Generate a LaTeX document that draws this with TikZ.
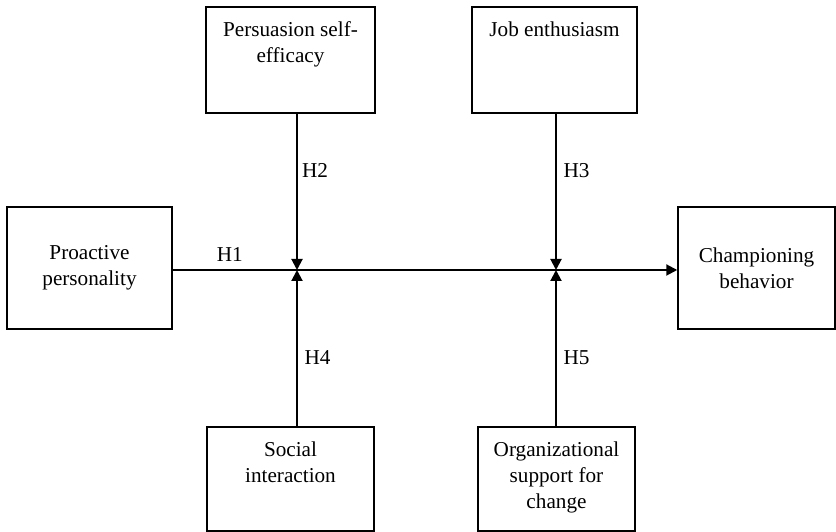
\documentclass[tikz,border=0pt]{standalone}
\usepackage{fontspec}
\setmainfont{Liberation Serif}
\usetikzlibrary{arrows.meta,positioning}

\newcommand{\boxtext}[3]{\parbox[c][#2][t]{#1}{\centering\rule{0pt}{30pt}#3}}

\begin{document}
\begin{tikzpicture}[x=1pt,y=1pt,
		every node/.style={font=\fontsize{21.2}{26}\selectfont},
		box/.style={draw, line width=1.5pt, inner sep=0pt},
		link/.style={line width=2pt, -{Triangle[width=11pt,length=11pt]}},
		hyp/.style={inner sep=0pt}]
		\useasboundingbox (0,0) rectangle (836,532);
		% predictor and outcome
		\node[box, minimum width=165pt, minimum height=122pt, align=center] (pp) at (89.5,264) {Proactive\\personality};
		\node[box, minimum width=157pt, minimum height=122pt, align=center] (cb) at (756.5,264) {Championing\\behavior};
		% moderators
		\node[box] (ps) at (290.5,472) {\boxtext{169pt}{106pt}{Persuasion self-\\efficacy}};
		\node[box] (je) at (554.5,472) {\boxtext{165pt}{106pt}{Job enthusiasm}};
		\node[box] (si) at (290.5,53) {\boxtext{167pt}{104pt}{Social\\interaction}};
		\node[box] (os) at (556.5,53) {\boxtext{157pt}{104pt}{Organizational\\support for\\change}};
		\coordinate (j1) at (297,262);
		\coordinate (j2) at (556,262);
		% main path
		\draw[link] (pp.east |- j1) -- node[hyp, pos=.113, anchor=base, yshift=8pt] {H1} (cb.west |- j1);
		% moderating paths
		\draw[link] (ps.south -| j1) -- node[hyp, pos=.41, anchor=base west, xshift=4pt] {H2} (j1);
		\draw[link] (je.south -| j2) -- node[hyp, pos=.41, anchor=base west, xshift=6.5pt] {H3} (j2);
		\draw[link] (si.north -| j1) -- node[hyp, pos=.395, anchor=base west, xshift=6.5pt] {H4} (j1);
		\draw[link] (os.north -| j2) -- node[hyp, pos=.395, anchor=base west, xshift=6.5pt] {H5} (j2);
	\end{tikzpicture}
\end{document}
